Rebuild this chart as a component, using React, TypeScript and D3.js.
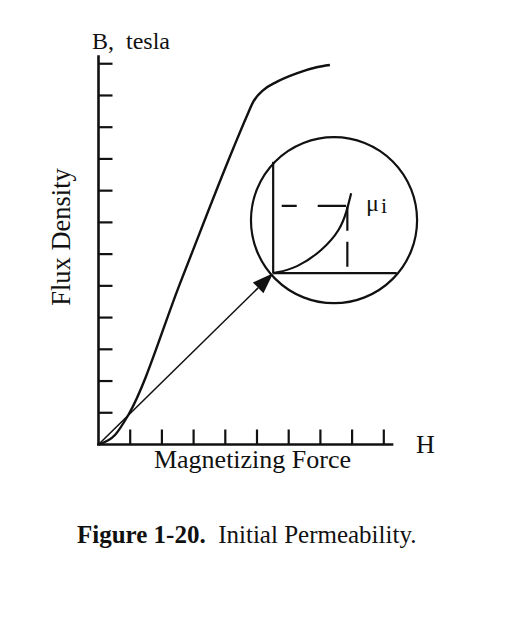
import React from "react";
import * as d3 from "d3";

// Axis ticks (unlabelled in the figure)
const H_TICKS = [1, 2, 3, 4, 5, 6, 7, 8, 9];
const B_TICKS = [1, 2, 3, 4, 5, 6, 7, 8, 9, 10, 11, 12];
const H_MAX = 9.3;
const B_MAX = 12.27;

// Main B-H magnetization curve
const curveH = [0, 0.52, 0.94, 2.6, 4.25, 4.67, 4.88, 5.2, 5.62, 6.25, 6.88, 7.3];
const curveB = [0, 0.3, 0.93, 5.15, 9.33, 10.33, 10.8, 11.17, 11.43, 11.7, 11.89, 11.96];

// Inset (magnified initial region)
const insetOrigin = [5.51, 5.4];
const insetCenter = [7.43, 7.07];
const insetRadius = 2.62;
const insetAxisTopB = 8.91;
const insetAxisRightH = 9.41;
const insetCurveH = [5.51, 6.25, 7.08, 7.62, 7.83, 7.97];
const insetCurveB = [5.4, 5.55, 6.13, 6.76, 7.34, 7.92];
const dashLevelB = 7.52;
const dashLevelH = [5.78, 7.81];
const dashVertH = 7.85;
const dashVertB = [7.49, 5.6];
const muLabelPos = [8.44, 7.36];

const TEXTS = {
  yTitle: "B,  tesla",
  yAxis: "Flux Density",
  xAxis: "Magnetizing Force",
  xTitle: "H",
  figBold: "Figure 1-20.",
  figText: "  Initial Permeability.",
};

export default function App() {
  const x = d3.scaleLinear().domain([0, H_MAX]).range([98.5, 98.5 + 31.7 * H_MAX]);
  const y = d3.scaleLinear().domain([0, B_MAX]).range([444.5, 444.5 - 31.73 * B_MAX]);

  const mainPts = curveH.map((h, i) => [h, curveB[i]] as [number, number]);
  const line = d3
    .line<[number, number]>()
    .x((d) => x(d[0]))
    .y((d) => y(d[1]))
    .curve(d3.curveMonotoneX);
  const smooth = d3
    .line<[number, number]>()
    .x((d) => x(d[0]))
    .y((d) => y(d[1]))
    .curve(d3.curveBasis);
  const insetPts = insetCurveH.map((h, i) => [h, insetCurveB[i]] as [number, number]);

  // arrow
  const ox = x(0), oy = y(0);
  const tx = x(insetOrigin[0]), ty = y(insetOrigin[1]);
  const len = Math.hypot(tx - ox, ty - oy);
  const ux = (tx - ox) / len, uy = (ty - oy) / len;
  const headL = 21, headW = 7.5;
  const bx = tx - ux * headL, by = ty - uy * headL;
  const arrowHead = [
    [tx, ty],
    [bx - uy * headW, by + ux * headW],
    [bx + uy * headW, by - ux * headW],
  ]
    .map((p) => p.join(","))
    .join(" ");

  const font = "'Liberation Serif', 'Times New Roman', serif";
  const stroke = "#111";

  return (
    <svg
      width={528}
      height={638}
      style={{ position: "absolute", left: 0, top: 0, background: "#fff" }}
      fontFamily={font}
    >
      <rect width={528} height={638} fill="#fff" />
      {/* axes */}
      <line x1={x(0)} x2={x(0)} y1={y(0)} y2={y(B_MAX)} stroke={stroke} strokeWidth={2.6} />
      <line x1={x(0) - 1.5} x2={x(H_MAX)} y1={y(0)} y2={y(0)} stroke={stroke} strokeWidth={2.6} />
      {B_TICKS.map((b) => (
        <line key={"b" + b} x1={x(0)} x2={x(0) + 14} y1={y(b)} y2={y(b)} stroke={stroke} strokeWidth={2.2} />
      ))}
      {H_TICKS.map((h) => (
        <line key={"h" + h} x1={x(h)} x2={x(h)} y1={y(0)} y2={y(0) - 15} stroke={stroke} strokeWidth={2.2} />
      ))}

      {/* main curve */}
      <path d={line(mainPts) || ""} fill="none" stroke={stroke} strokeWidth={2.4} />

      {/* arrow */}
      <line x1={ox} y1={oy} x2={bx} y2={by} stroke={stroke} strokeWidth={1.6} />
      <polygon points={arrowHead} fill={stroke} />

      {/* inset */}
      <circle
        cx={x(insetCenter[0])}
        cy={y(insetCenter[1])}
        r={x(insetRadius) - x(0)}
        fill="none"
        stroke={stroke}
        strokeWidth={2.2}
      />
      <line x1={tx} x2={tx} y1={ty} y2={y(insetAxisTopB)} stroke={stroke} strokeWidth={2.2} />
      <line x1={tx} x2={x(insetAxisRightH)} y1={ty} y2={ty} stroke={stroke} strokeWidth={2.2} />
      <path d={smooth(insetPts) || ""} fill="none" stroke={stroke} strokeWidth={2.2} />
      <line
        x1={x(dashLevelH[0])}
        x2={x(dashLevelH[1])}
        y1={y(dashLevelB)}
        y2={y(dashLevelB)}
        stroke={stroke}
        strokeWidth={2.2}
        strokeDasharray="15 21 40"
      />
      <line
        x1={x(dashVertH)}
        x2={x(dashVertH)}
        y1={y(dashVertB[0])}
        y2={y(dashVertB[1])}
        stroke={stroke}
        strokeWidth={2.2}
        strokeDasharray="24 11 40"
      />
      <text x={x(muLabelPos[0])} y={y(muLabelPos[1])} fontSize={24} fill={stroke}>
        μ<tspan fontSize={22} dy={2} dx={2}>i</tspan>
      </text>

      {/* labels */}
      <text x={92} y={49} fontSize={24} fill={stroke} style={{ whiteSpace: "pre" }}>
        {TEXTS.yTitle}
      </text>
      <text transform="translate(70,237) rotate(-90)" textAnchor="middle" fontSize={26.5} fill={stroke}>
        {TEXTS.yAxis}
      </text>
      <text x={252.5} y={468} textAnchor="middle" fontSize={26} fill={stroke}>
        {TEXTS.xAxis}
      </text>
      <text x={416} y={453} fontSize={26} fill={stroke}>
        {TEXTS.xTitle}
      </text>
      <text x={77} y={543} fontSize={25} fill={stroke} style={{ whiteSpace: "pre" }}>
        <tspan fontWeight="bold">{TEXTS.figBold}</tspan>
        <tspan>{TEXTS.figText}</tspan>
      </text>
    </svg>
  );
}
